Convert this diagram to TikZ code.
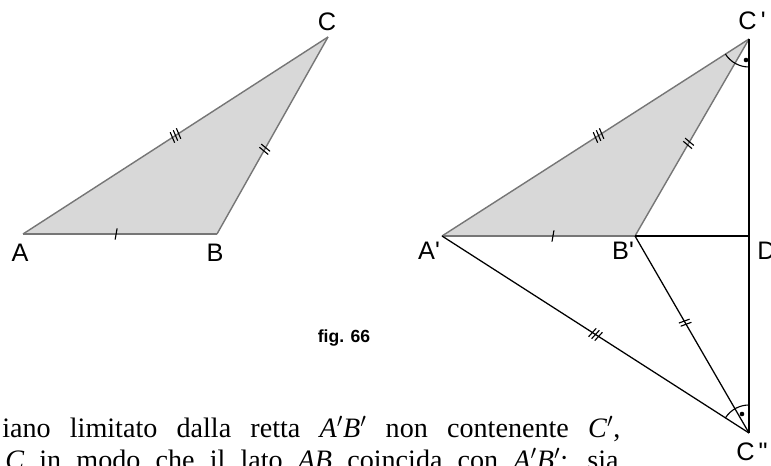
\documentclass[tikz,border=0pt]{standalone}
\usepackage{fontspec}
\setmainfont{Liberation Serif}
\setsansfont{Liberation Sans}
\usepackage{xcolor}
\usetikzlibrary{positioning}
\usetikzlibrary{decorations.markings}
\usetikzlibrary{angles}
\definecolor{trigray}{RGB}{216,216,216}
\definecolor{edgegray}{RGB}{118,118,118}
\tikzset{
  tick1/.style={postaction={decorate},decoration={markings,
      mark=at position #1 with {\draw[black,line width=0.8pt] (-0.7pt,-4pt)--(0.7pt,4pt);}}},
  tick2/.style={postaction={decorate},decoration={markings,
      mark=at position #1 with {\draw[black,line width=0.8pt] (-2pt,-4pt)--(-0.6pt,4pt) (0.6pt,-4pt)--(2pt,4pt);}}},
  tick3/.style={postaction={decorate},decoration={markings,
      mark=at position #1 with {\draw[black,line width=0.8pt] (-3.3pt,-4pt)--(-1.9pt,4pt) (-0.7pt,-4pt)--(0.7pt,4pt) (1.9pt,-4pt)--(3.3pt,4pt);}}},
  side/.style={draw=edgegray,line width=1pt},
  ray/.style={draw=black,line width=0.9pt},
  vlabel/.style={font=\sffamily\fontsize{18}{18}\selectfont,inner sep=0pt},
  prose/.style={anchor=base west,inner sep=0pt,font=\fontsize{20}{24}\selectfont},
}

\begin{document}
\begin{tikzpicture}[x=0.025cm,y=0.025cm]
   \clip (0,0) rectangle (771,466);
   % triangle ABC
   \coordinate (A) at (23,232);
   \coordinate (B) at (217,232);
   \coordinate (C) at (328,429);
   % moved copy and its mirror image
   \coordinate (Ap) at (442,230);
   \coordinate (Bp) at (635,230);
   \coordinate (Cp) at (749,427);
   \coordinate (D) at (749,230);
   \coordinate (Cpp) at (749,33);

   \fill[trigray] (A) -- (B) -- (C) -- cycle;
   \fill[trigray] (Ap) -- (Bp) -- (Cp) -- cycle;

   \draw[side,tick1=0.48] (A) -- (B);
   \draw[side,tick2=0.43] (B) -- (C);
   \draw[side,tick3=0.50] (A) -- (C);

   \draw[side,tick1=0.575] (Ap) -- (Bp);
   \draw[side,tick2=0.47] (Bp) -- (Cp);
   \draw[side,tick3=0.51] (Ap) -- (Cp);

   \draw[ray] (Bp) -- (D);
   \draw[ray] (Cp) -- (D) -- (Cpp);
   \draw[ray,tick3=0.50] (Ap) -- (Cpp);
   \draw[ray,tick2=0.44] (Bp) -- (Cpp);

   % angle marks
   \pic[draw,line width=0.8pt,angle radius=0.7cm] {angle=Ap--Cp--D};
   \pic[draw,line width=0.8pt,angle radius=0.7cm] {angle=D--Cpp--Ap};
   \fill (746,406) circle (2.3);
   \fill (742,52) circle (2.3);

   % labels
   \node[vlabel] (lA) at (20,213) {A};
   \node[vlabel] (lB) at (215,213) {B};
   \node[vlabel] (lC) at (327,444) {C};
   \node[vlabel] (lAp) at (429,215) {A\textquotesingle};
   \node[vlabel] (lBp) at (623,215) {B\textquotesingle};
   \node[vlabel,anchor=west] (lD) at (757,215) {D};
   \node[vlabel] (lCp) at (752,445) {C\,\textquotesingle};
   \node[vlabel] (lCpp) at (752,14) {C\,\textquotedbl};

   \node[font=\sffamily\bfseries\fontsize{12.5}{14}\selectfont] (cap) at (344,128) {fig. 66};

   % running text
   \node[prose] (line1) at (2,28) {\makebox[15.45cm][s]{iano limitato dalla retta \textit{A}$'$\textit{B}$'$ non contenente \textit{C}$'$,}};
   \node[prose] (line2) at (5,-4) {\makebox[15.33cm][s]{\textit{C} in modo che il lato \textit{AB} coincida con \textit{A}$'$\textit{B}$'$; sia}};
\end{tikzpicture}
\end{document}
